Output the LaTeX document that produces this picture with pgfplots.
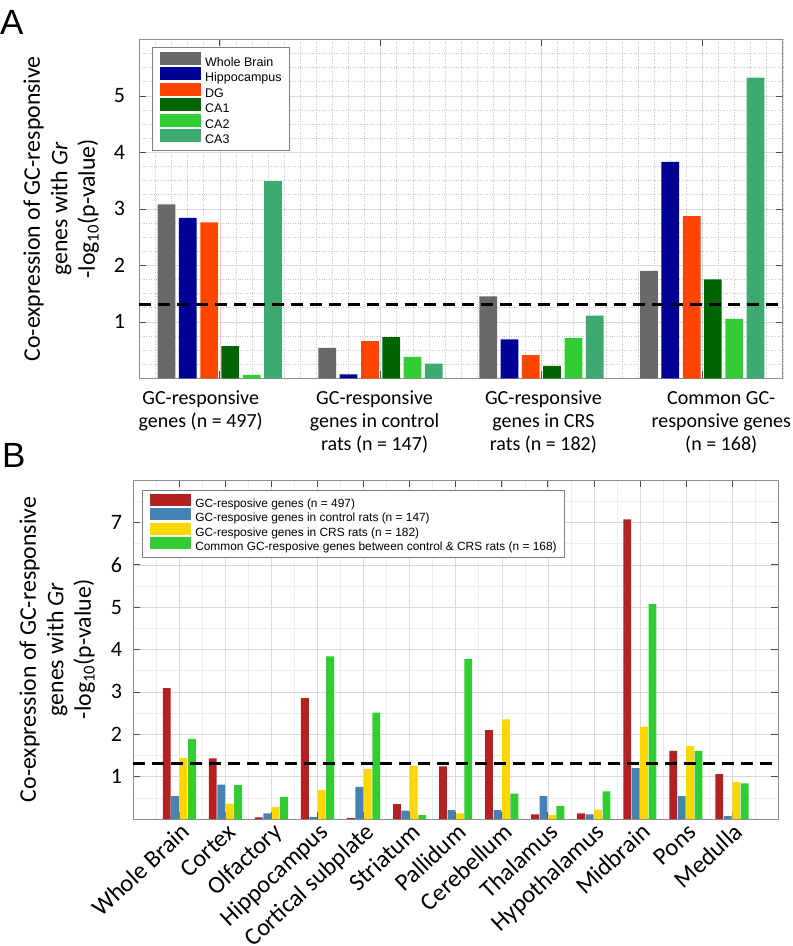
\documentclass[border=0pt]{standalone}
\usepackage{fontspec}
\setmainfont{Carlito}
\newfontfamily\arial{Liberation Sans}
\usepackage{pgfplots}
\pgfplotsset{compat=1.18}

\definecolor{cWB}{RGB}{105,105,105}
\definecolor{cHip}{RGB}{0,0,153}
\definecolor{cDG}{RGB}{255,69,0}
\definecolor{cCAa}{RGB}{0,100,0}
\definecolor{cCAb}{RGB}{50,205,50}
\definecolor{cCAc}{RGB}{60,170,113}
\definecolor{bRed}{RGB}{178,34,34}
\definecolor{bBlue}{RGB}{70,130,180}
\definecolor{bYel}{RGB}{255,215,0}
\definecolor{bGrn}{RGB}{50,205,50}

\newcommand{\cat}[2]{\hspace*{#1}\begin{tabular}{@{}c@{}}#2\end{tabular}}

\pgfplotsset{
  panel/.style={scale only axis, grid=both,
    axis line style={black!45, line width=1pt},
    tick style={black!70, line width=0.6pt},
    major tick length=7pt, minor tick length=0pt,
    /pgf/number format/assume math mode=true,
    clip=false},
  swA/.style={legend image code/.code={\fill[##1] (0pt,-1.7pt) rectangle (41pt,11pt); \path (45pt,0pt);}},
  swB/.style={legend image code/.code={\fill[##1] (0pt,-1.65pt) rectangle (41.7pt,10.05pt); \path (45.7pt,0pt);}},
}

\begin{document}
\begin{tikzpicture}
\useasboundingbox (0pt,0pt) rectangle (793pt,-946pt);

\node[anchor=north west, inner sep=0pt, font=\arial\fontsize{35}{35}\selectfont] at (0pt,-10pt) {A};
\node[anchor=north west, inner sep=0pt, font=\arial\fontsize{35}{35}\selectfont] at (2pt,-443pt) {B};

% ---- panel A
\begin{axis}[panel, at={(139.3pt,-39.3pt)}, anchor=north west,
  width=643.4pt, height=339pt,
  xmin=0.5, xmax=4.5, ymin=0, ymax=6,
  xtick={1,2,3,4},
  xticklabels={{\cat{-38pt}{GC-responsive\\genes (n = 497)}},{\cat{-12pt}{GC-responsive\\genes in control\\rats (n = 147)}},{\cat{4pt}{GC-responsive\\genes in CRS\\rats (n = 182)}},{\cat{38pt}{Common GC-\\responsive genes\\(n = 168)}}},
  ytick={1,2,3,4,5},
  minor xtick={0.5,0.6,...,4.55},
  minor ytick={0,0.25,...,6},
  major grid style={solid, black!15},
  minor grid style={dotted, black!22},
  xticklabel style={font=\fontsize{20}{23}\selectfont, inner sep=0pt, yshift=-10.2pt},
  yticklabel style={font=\fontsize{22}{22}\selectfont, inner sep=0pt, xshift=-14pt},
  ylabel={Co-expression of GC-responsive\\genes with \textit{Gr}\\-log\textsubscript{10}(p-value)},
  ylabel style={font=\fontsize{23.8}{27.5}\selectfont, align=center, at={(axis description cs:-0.0622,0.5)}, anchor=south, inner sep=0pt},
  legend style={at={(axis description cs:0.0202,0.9764)}, anchor=north west,
    draw=black!50, line width=0.8pt, fill=white, inner xsep=7.5pt, inner ysep=4.3pt, row sep=-1.8pt,
    font=\arial\fontsize{12.5}{12.5}\selectfont,
    nodes={inner sep=0pt, text height=9.5pt, text depth=3pt}},
  legend cell align=left,
]
\addplot[ybar, bar width=0.11, bar shift=-0.331, fill=cWB, draw=none, swA] coordinates {(1,3.08) (2,0.54) (3,1.45) (4,1.90)};
\addlegendentry{Whole Brain}
\addplot[ybar, bar width=0.11, bar shift=-0.199, fill=cHip, draw=none, swA] coordinates {(1,2.84) (2,0.07) (3,0.69) (4,3.83)};
\addlegendentry{Hippocampus}
\addplot[ybar, bar width=0.11, bar shift=-0.066, fill=cDG, draw=none, swA] coordinates {(1,2.76) (2,0.66) (3,0.41) (4,2.87)};
\addlegendentry{DG}
\addplot[ybar, bar width=0.11, bar shift=0.066, fill=cCAa, draw=none, swA] coordinates {(1,0.57) (2,0.73) (3,0.22) (4,1.75)};
\addlegendentry{CA1}
\addplot[ybar, bar width=0.11, bar shift=0.199, fill=cCAb, draw=none, swA] coordinates {(1,0.06) (2,0.38) (3,0.71) (4,1.05)};
\addlegendentry{CA2}
\addplot[ybar, bar width=0.11, bar shift=0.331, fill=cCAc, draw=none, swA] coordinates {(1,3.49) (2,0.26) (3,1.11) (4,5.32)};
\addlegendentry{CA3}
\addplot[black, line width=2.8pt, dash pattern=on 12pt off 7pt, forget plot] coordinates {(0.5,1.301) (4.5,1.301)};
\end{axis}

% ---- panel B
\begin{axis}[panel, at={(133.3pt,-480pt)}, anchor=north west,
  width=644.7pt, height=339pt,
  xmin=0, xmax=14, ymin=0, ymax=8,
  xtick={1,...,13},
  xticklabels={Whole Brain,Cortex,Olfactory,Hippocampus,Cortical subplate,Striatum,Pallidum,Cerebellum,Thalamus,Hypothalamus,Midbrain,Pons,Medulla},
  ytick={1,...,7},
  minor xtick={0.5,1.5,...,13.5},
  minor ytick={0.5,1.5,...,7.5},
  major grid style={solid, black!15},
  minor grid style={solid, black!7},
  xticklabel style={font=\fontsize{24.5}{24.5}\selectfont, inner sep=0pt, anchor=base east, xshift=12pt, yshift=-15pt, rotate=43},
  yticklabel style={font=\fontsize{22}{22}\selectfont, inner sep=0pt, xshift=-11pt},
  ylabel={Co-expression of GC-responsive\\genes with \textit{Gr}\\-log\textsubscript{10}(p-value)},
  ylabel style={font=\fontsize{23.8}{27.5}\selectfont, align=center, at={(axis description cs:-0.059,0.5)}, anchor=south, inner sep=0pt},
  legend style={at={(axis description cs:0.013,0.9705)}, anchor=north west,
    draw=black!50, line width=0.8pt, fill=white, inner xsep=7.5pt, inner ysep=3.5pt, row sep=-2.05pt,
    font=\arial\fontsize{11.9}{11.9}\selectfont,
    nodes={inner sep=0pt, text height=10pt, text depth=3pt}},
  legend cell align=left,
]
\addplot[ybar, bar width=0.17, bar shift=-0.2745, fill=bRed, draw=none, swB] coordinates {
  (1,3.09) (2,1.43) (3,0.04) (4,2.85) (5,0.02) (6,0.35) (7,1.24) (8,2.10) (9,0.11) (10,0.13) (11,7.07) (12,1.61) (13,1.06)};
\addlegendentry{GC-resposive genes (n = 497)}
\addplot[ybar, bar width=0.17, bar shift=-0.0915, fill=bBlue, draw=none, swB] coordinates {
  (1,0.54) (2,0.81) (3,0.13) (4,0.05) (5,0.76) (6,0.20) (7,0.21) (8,0.21) (9,0.54) (10,0.11) (11,1.20) (12,0.54) (13,0.07)};
\addlegendentry{GC-resposive genes in control rats (n = 147)}
\addplot[ybar, bar width=0.17, bar shift=0.0915, fill=bYel, draw=none, swB] coordinates {
  (1,1.44) (2,0.36) (3,0.28) (4,0.69) (5,1.18) (6,1.25) (7,0.13) (8,2.35) (9,0.09) (10,0.22) (11,2.18) (12,1.72) (13,0.87)};
\addlegendentry{GC-resposive genes in CRS rats (n = 182)}
\addplot[ybar, bar width=0.17, bar shift=0.2745, fill=bGrn, draw=none, swB] coordinates {
  (1,1.89) (2,0.80) (3,0.52) (4,3.84) (5,2.51) (6,0.09) (7,3.78) (8,0.60) (9,0.31) (10,0.65) (11,5.07) (12,1.61) (13,0.84)};
\addlegendentry{Common GC-resposive genes between control \& CRS rats (n = 168)}
\addplot[black, line width=2.8pt, dash pattern=on 12pt off 7pt, forget plot] coordinates {(0,1.301) (14,1.301)};
\end{axis}
\end{tikzpicture}
\end{document}
